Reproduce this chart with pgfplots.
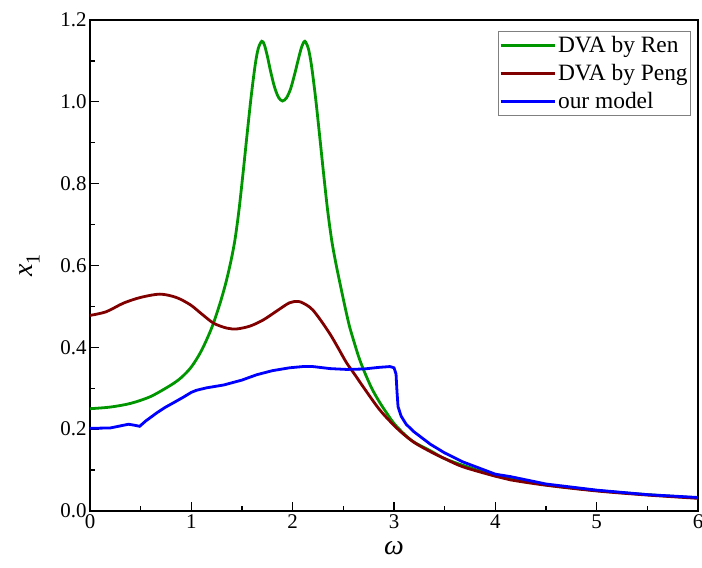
\documentclass[border=0pt]{standalone}
\usepackage{pgfplots}
\pgfplotsset{compat=1.18}
\usepackage{fontspec}
\setmainfont{Liberation Serif}
\definecolor{cgreen}{RGB}{0,150,0}
\definecolor{cred}{RGB}{128,0,0}
\definecolor{cblue}{RGB}{0,0,255}
\begin{document}
\begin{tikzpicture}
\path[use as bounding box] (-90bp,-57bp) rectangle (612bp,511bp);
\begin{axis}[
  at={(0,0)}, anchor=south west,
  width=608bp, height=491bp, scale only axis,
  xmin=0, xmax=6, ymin=0, ymax=1.2,
  xtick={0,1,2,3,4,5,6},
  xticklabels={0,1,2,3,4,5,6},
  ytick={0,0.2,0.4,0.6,0.8,1.0,1.2},
  yticklabels={0.0,0.2,0.4,0.6,0.8,1.0,1.2},
  minor x tick num=1, minor y tick num=1,
  tick align=inside, xtick pos=bottom, ytick pos=left,
  major tick length=9bp, minor tick length=5bp,
  every tick/.style={black, line width=1.2bp},
  axis line style={line width=1.6bp},
  /pgf/number format/assume math mode=true,
  tick label style={font=\rmfamily\fontsize{21}{21}\selectfont},
  xlabel={\textit{ω}}, ylabel={\textit{x}\kern0.5bp\raisebox{-0.25em}{\fontsize{20}{20}\selectfont 1}},
  label style={font=\rmfamily\fontsize{28}{28}\selectfont},
  x label style={at={(axis description cs:0.5,-0.075)}, anchor=center},
  y label style={at={(axis description cs:-0.099,0.5)}, anchor=center},
  legend style={at={(axis description cs:0.9885,0.9776)}, anchor=north east,
    draw=gray, line width=0.6bp, inner xsep=1bp, inner ysep=3bp,
    font=\rmfamily\fontsize{23.5}{23.5}\selectfont, row sep=6.5bp,
    cells={anchor=west}},
  legend image code/.code={\draw[#1, line width=3bp] (0bp,0bp) -- (54bp,0bp);},
]
\addplot[cgreen, line width=2.8bp, smooth, tension=0.5] coordinates {
(0.00,0.250) (0.20,0.254) (0.40,0.263) (0.60,0.280) (0.80,0.308) (0.90,0.326)
(1.00,0.352) (1.10,0.392) (1.20,0.447) (1.28,0.505) (1.34,0.557) (1.39,0.610)
(1.43,0.662) (1.47,0.735) (1.51,0.825) (1.55,0.920) (1.59,1.012) (1.63,1.090)
(1.66,1.130) (1.695,1.148) (1.72,1.140) (1.75,1.112) (1.78,1.077) (1.82,1.037)
(1.86,1.011) (1.90,1.002) (1.94,1.010) (1.98,1.032) (2.02,1.068) (2.06,1.108)
(2.09,1.135) (2.12,1.148) (2.155,1.130) (2.185,1.090) (2.225,1.012) (2.265,0.920)
(2.305,0.825) (2.345,0.735) (2.385,0.662) (2.425,0.607) (2.475,0.547) (2.52,0.495)
(2.56,0.452) (2.60,0.418) (2.65,0.378) (2.70,0.345) (2.78,0.300) (2.86,0.265)
(2.94,0.235) (3.00,0.214) (3.10,0.188) (3.20,0.168) (3.36,0.147) (3.50,0.128)
(3.70,0.110) (4.00,0.087) (4.50,0.064) (5.00,0.050) (5.50,0.040) (6.00,0.032)};
\addlegendentry{DVA by Ren}
\addplot[cred, line width=2.8bp, smooth, tension=0.5] coordinates {
(0.00,0.478) (0.16,0.487) (0.33,0.508) (0.50,0.522) (0.69,0.530) (0.85,0.522)
(0.99,0.504) (1.10,0.482) (1.22,0.459) (1.35,0.447) (1.45,0.445) (1.58,0.452)
(1.71,0.467) (1.85,0.490) (1.97,0.509) (2.06,0.512) (2.14,0.503) (2.20,0.491)
(2.28,0.465) (2.37,0.432) (2.45,0.398) (2.53,0.363) (2.62,0.331) (2.70,0.302)
(2.86,0.247) (3.03,0.202) (3.19,0.169) (3.36,0.145) (3.50,0.128) (3.68,0.108)
(4.00,0.085) (4.15,0.076) (4.50,0.063) (5.00,0.049) (5.50,0.039) (6.00,0.031)};
\addlegendentry{DVA by Peng}
\addplot[cblue, line width=2.8bp] coordinates {
(0.00,0.202) (0.20,0.203) (0.30,0.208) (0.38,0.212) (0.43,0.210) (0.49,0.207)
(0.55,0.220) (0.66,0.240) (0.74,0.253) (0.82,0.264) (0.92,0.278) (1.00,0.290)
(1.05,0.295) (1.15,0.301) (1.32,0.308) (1.50,0.320) (1.645,0.333) (1.80,0.343)
(1.97,0.350) (2.10,0.353) (2.20,0.353) (2.37,0.348) (2.53,0.346) (2.70,0.347)
(2.85,0.351) (2.96,0.353) (3.00,0.350) (3.02,0.335) (3.03,0.290) (3.04,0.255)
(3.07,0.232) (3.12,0.212) (3.20,0.193) (3.36,0.163) (3.50,0.142) (3.68,0.120)
(4.00,0.090) (4.15,0.084) (4.50,0.066) (5.00,0.051) (5.50,0.040) (6.00,0.033)};
\addlegendentry{our model}
\end{axis}
\end{tikzpicture}
\end{document}
